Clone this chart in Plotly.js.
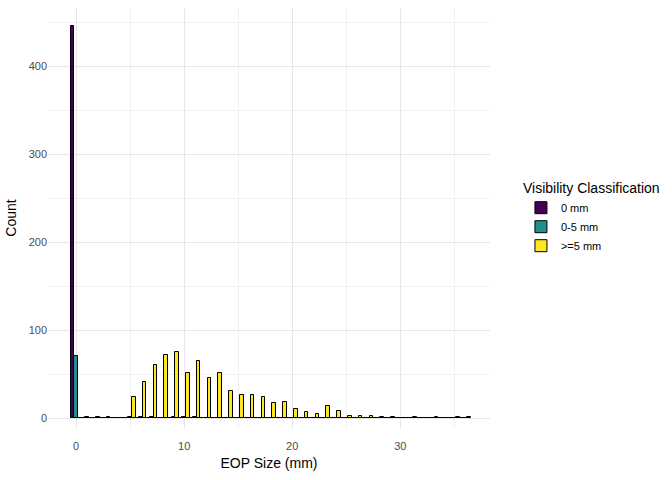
<!DOCTYPE html>
<html>
<head>
<script src="https://cdn.plot.ly/plotly-3.0.1.min.js"></script>
<style>body{margin:0}</style>
</head>
<body>
<div id="myDiv"></div>
<script>
let BINS = [];
for (let i = 0; i <= 36; i++) BINS.push(i);

let ZERO_MM = [445,0,0,0,0,0,0,0,0,0,0,0,0,0,0,0,0,0,0,0,0,0,0,0,0,0,0,0,0,0,0,0,0,0,0,0,0];
let SMALL_MM = [71,2,1,2,0,1,2,1,0,2,1,1,0,0,0,0,0,0,0,0,0,0,0,0,0,0,0,0,0,0,0,0,0,0,0,0,0];
let BIG_MM = [0,0,0,0,0,24,41,60,72,75,51,65,46,51,31,26,27,24,17,18,11,7,5,14,8,3,3,3,1,1,0,1,0,1,0,1,1];

let NAMES = ['0 mm', '0-5 mm', '>=5 mm'];
let COLORS = ['#440154', '#21908C', '#FDE725'];

let plotlyData = [ZERO_MM, SMALL_MM, BIG_MM].map((vals, i) => ({
    x: BINS,
    y: vals,
    type: 'bar',
    name: NAMES[i],
    marker: { color: COLORS[i], line: { color: '#000', width: 1 } }
}));

let layout = {
    width: 672, height: 480,
    margin: { l: 48, r: 182, t: 8, b: 52 },
    paper_bgcolor: '#fff', plot_bgcolor: '#fff',
    barmode: 'group', bargap: 0, bargroupgap: 0,
    font: { family: 'Liberation Sans, Arial', color: '#4d4d4d', size: 11 },
    xaxis: {
        range: [-2.6, 38.3], tickvals: [0, 10, 20, 30], zeroline: false,
        gridcolor: '#e6e6e6', gridwidth: 1.3, ticks: 'outside', ticklen: 8, tickcolor: 'rgba(0,0,0,0)',
        minor: { tickvals: [5, 15, 25, 35], showgrid: true, gridcolor: '#f0f0f0', ticks: '' },
        title: { text: 'EOP Size (mm)', font: { size: 14, color: '#000' }, standoff: 6 }
    },
    yaxis: {
        range: [-11, 466], tickvals: [0, 100, 200, 300, 400], zeroline: false,
        gridcolor: '#e6e6e6', gridwidth: 1.3, ticks: '',
        minor: { tickvals: [50, 150, 250, 350, 450], showgrid: true, gridcolor: '#f0f0f0' },
        title: { text: 'Count', font: { size: 14, color: '#000' }, standoff: 8 }
    },
    legend: {
        x: 1.07, y: 0.5, yanchor: 'middle',
        title: { text: 'Visibility Classification', font: { size: 14, color: '#000' } },
        font: { size: 11, color: '#000' }
    },
    showlegend: true
};

Plotly.newPlot('myDiv', plotlyData, layout, { displayModeBar: false });
</script>
</body>
</html>
